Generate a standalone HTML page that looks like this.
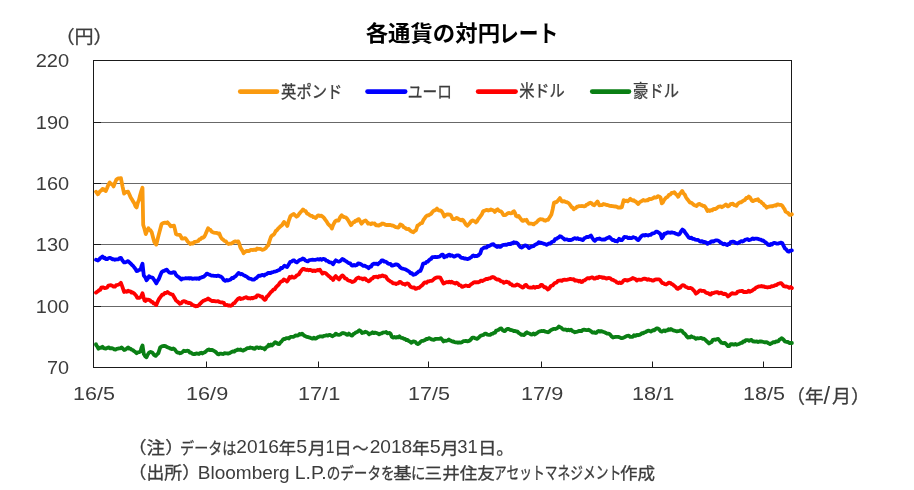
<!DOCTYPE html>
<html lang="ja"><head><meta charset="utf-8"><title>各通貨の対円レート</title>
<style>html,body{margin:0;padding:0;background:#fff}svg{display:block}</style></head>
<body>
<svg width="914" height="490" viewBox="0 0 914 490" font-family='"Liberation Sans","Noto Sans CJK JP",sans-serif'>
<rect width="914" height="490" fill="#fff"/>
<line x1="93.5" y1="122.5" x2="791.5" y2="122.5" stroke="#686868" stroke-width="1"/>
<line x1="93.5" y1="122.5" x2="101.0" y2="122.5" stroke="#1a1a1a" stroke-width="1"/>
<line x1="93.5" y1="183.5" x2="791.5" y2="183.5" stroke="#686868" stroke-width="1"/>
<line x1="93.5" y1="183.5" x2="101.0" y2="183.5" stroke="#1a1a1a" stroke-width="1"/>
<line x1="93.5" y1="244.5" x2="791.5" y2="244.5" stroke="#686868" stroke-width="1"/>
<line x1="93.5" y1="244.5" x2="101.0" y2="244.5" stroke="#1a1a1a" stroke-width="1"/>
<line x1="93.5" y1="306.5" x2="791.5" y2="306.5" stroke="#686868" stroke-width="1"/>
<line x1="93.5" y1="306.5" x2="101.0" y2="306.5" stroke="#1a1a1a" stroke-width="1"/>
<rect x="93.5" y="60.5" width="698.0" height="307.0" fill="none" stroke="#1a1a1a" stroke-width="1"/>
<line x1="206.5" y1="367.5" x2="206.5" y2="361.5" stroke="#1a1a1a" stroke-width="1"/>
<line x1="318.5" y1="367.5" x2="318.5" y2="361.5" stroke="#1a1a1a" stroke-width="1"/>
<line x1="428.5" y1="367.5" x2="428.5" y2="361.5" stroke="#1a1a1a" stroke-width="1"/>
<line x1="541.5" y1="367.5" x2="541.5" y2="361.5" stroke="#1a1a1a" stroke-width="1"/>
<line x1="652.5" y1="367.5" x2="652.5" y2="361.5" stroke="#1a1a1a" stroke-width="1"/>
<line x1="763.5" y1="367.5" x2="763.5" y2="361.5" stroke="#1a1a1a" stroke-width="1"/>
<g fill="none" stroke-width="3.8" stroke-linejoin="round" stroke-linecap="round">
<path d="M96.0,191.7 L97.9,194.3 L99.1,192.7 L100.2,191.2 L101.3,190.5 L102.5,189.0 L103.6,189.1 L104.7,190.4 L105.8,191.0 L107.1,188.0 L108.4,184.7 L109.7,182.5 L111.0,183.8 L112.3,184.5 L113.6,186.4 L114.9,183.0 L116.3,179.8 L117.5,178.8 L118.6,178.4 L119.8,178.4 L120.9,178.1 L122.5,186.3 L124.1,193.6 L125.4,192.4 L126.8,191.9 L128.1,191.7 L129.4,194.5 L130.7,197.5 L132.0,199.5 L133.2,201.6 L134.3,203.3 L135.4,206.1 L136.6,207.4 L137.8,202.8 L139.0,200.0 L140.1,195.3 L141.3,191.1 L142.5,187.7 L143.2,224.9 L144.5,229.0 L145.8,234.1 L147.1,230.9 L148.4,228.2 L149.5,230.0 L150.6,230.4 L151.7,232.2 L153.0,237.2 L154.3,242.0 L155.3,243.5 L156.3,244.6 L157.6,239.2 L158.9,234.1 L160.2,229.3 L161.5,224.3 L162.7,223.3 L163.9,222.9 L165.0,222.7 L166.2,223.0 L167.4,222.3 L168.5,223.5 L169.6,224.7 L170.7,226.3 L171.8,226.2 L172.9,225.8 L174.0,225.6 L175.0,229.6 L176.0,234.1 L177.3,234.7 L178.6,234.8 L179.9,234.8 L180.9,236.4 L181.9,238.7 L183.5,238.5 L185.1,238.1 L186.4,239.6 L187.8,241.6 L189.1,242.8 L190.4,244.0 L191.7,243.2 L193.0,243.6 L194.4,241.9 L195.7,241.8 L197.0,241.4 L198.2,241.0 L199.4,239.4 L200.6,239.1 L201.8,237.7 L203.0,237.8 L204.2,236.8 L205.5,234.3 L206.8,231.2 L208.1,228.2 L209.2,229.7 L210.4,229.9 L211.5,231.5 L212.7,232.2 L214.0,232.6 L215.3,232.8 L216.7,232.9 L218.0,233.7 L219.3,233.5 L220.6,236.7 L221.9,238.7 L223.2,239.7 L224.5,241.0 L225.9,241.3 L227.2,243.2 L228.5,244.0 L229.8,243.7 L231.1,243.7 L232.4,243.0 L233.7,242.0 L234.8,241.5 L236.0,241.5 L237.2,241.8 L238.3,241.4 L239.3,243.7 L240.3,247.3 L241.4,249.2 L242.5,250.8 L243.6,253.2 L245.0,251.9 L246.5,251.0 L247.9,250.8 L249.2,251.0 L250.5,249.9 L251.8,249.9 L253.1,250.1 L254.4,249.6 L255.8,250.0 L257.1,248.5 L258.4,248.8 L259.7,248.9 L261.0,249.2 L262.3,249.9 L263.6,249.5 L264.8,248.9 L265.9,248.0 L267.1,246.2 L268.2,245.5 L269.5,241.1 L270.9,237.0 L272.1,235.5 L273.3,234.9 L274.4,233.7 L275.6,231.2 L276.8,230.4 L278.1,228.6 L279.4,227.4 L280.7,226.1 L282.0,225.2 L283.0,223.5 L284.0,221.9 L285.1,223.4 L286.2,224.2 L287.3,225.9 L288.9,220.3 L290.5,216.0 L291.6,215.2 L292.7,214.5 L293.8,214.0 L295.1,215.4 L296.5,216.7 L297.8,215.9 L299.1,214.0 L300.4,212.3 L301.7,211.0 L303.0,209.4 L304.3,210.8 L305.6,211.1 L307.0,213.4 L308.3,214.0 L309.6,215.1 L310.9,215.9 L312.2,216.0 L313.3,217.1 L314.4,217.2 L315.5,218.0 L316.6,217.0 L317.7,215.6 L318.8,215.3 L320.1,216.0 L321.4,215.6 L322.7,216.7 L324.0,217.9 L325.4,219.9 L326.7,221.6 L328.0,223.9 L329.3,225.2 L330.6,226.3 L331.9,228.5 L333.0,225.4 L334.1,223.2 L335.2,221.3 L336.3,220.5 L337.4,220.6 L338.5,220.6 L340.1,217.3 L341.7,215.3 L343.0,216.6 L344.4,217.1 L345.7,217.3 L347.0,218.6 L348.3,220.5 L349.6,222.8 L350.9,225.2 L352.0,223.9 L353.2,222.4 L354.4,222.2 L355.5,220.6 L356.6,220.8 L357.8,219.6 L358.9,219.1 L360.2,221.4 L361.6,223.7 L362.9,222.0 L364.2,220.9 L365.5,220.4 L366.8,221.8 L368.1,223.7 L369.4,223.4 L370.8,224.2 L372.1,223.2 L373.4,223.7 L374.7,223.5 L376.0,225.3 L377.3,225.2 L378.6,225.7 L379.8,224.7 L380.9,224.8 L382.1,223.5 L383.2,223.7 L384.4,224.0 L385.6,224.9 L386.7,225.0 L387.9,225.0 L389.1,225.0 L390.4,225.0 L391.8,225.5 L393.1,225.6 L394.4,226.4 L395.7,227.2 L397.0,227.3 L398.3,227.7 L399.3,226.4 L400.3,224.4 L401.4,225.0 L402.6,225.7 L403.8,227.3 L404.9,227.7 L406.2,228.8 L407.5,229.1 L408.8,229.0 L409.9,230.3 L411.1,231.1 L412.2,231.8 L413.4,232.3 L414.7,230.9 L416.0,230.3 L417.4,225.7 L418.5,225.1 L419.7,224.2 L420.9,223.1 L422.0,223.1 L423.3,220.2 L424.6,218.4 L425.9,216.5 L427.2,215.5 L428.5,215.4 L429.8,214.5 L431.1,213.8 L432.5,211.8 L433.8,210.6 L435.4,210.2 L437.0,208.6 L438.1,210.0 L439.3,210.6 L440.5,210.4 L441.6,211.3 L443.0,213.5 L444.3,216.5 L445.6,215.1 L446.9,214.5 L448.2,214.3 L449.5,214.6 L450.8,215.2 L451.8,217.3 L452.8,219.1 L454.1,219.2 L455.4,218.7 L456.7,217.8 L457.8,218.4 L458.9,219.3 L460.0,219.8 L461.1,220.4 L462.2,219.6 L463.3,220.4 L464.6,222.4 L465.9,224.5 L467.2,225.7 L468.5,224.6 L469.9,223.0 L471.2,221.1 L472.6,220.4 L473.7,221.0 L474.8,221.3 L475.9,222.4 L477.2,221.1 L478.5,218.7 L479.8,217.2 L480.9,215.7 L482.0,213.9 L483.1,211.3 L484.4,210.7 L485.8,210.2 L487.1,209.9 L488.4,210.5 L489.7,210.2 L491.0,209.4 L492.3,209.9 L493.6,210.4 L494.9,211.9 L496.2,210.1 L497.6,209.3 L498.7,210.5 L499.8,211.1 L500.9,211.3 L502.2,212.8 L503.5,215.2 L504.6,215.2 L505.8,214.9 L507.0,213.9 L508.1,213.2 L509.4,213.0 L510.7,213.3 L512.0,213.2 L513.0,211.7 L514.0,211.3 L515.0,212.9 L516.0,215.9 L517.3,216.6 L518.6,215.9 L519.7,217.6 L520.8,218.9 L521.9,220.4 L523.0,220.9 L524.2,220.0 L525.4,220.5 L526.5,219.8 L527.8,222.2 L529.1,223.7 L530.2,223.5 L531.4,223.7 L532.6,223.9 L533.7,224.4 L534.8,223.2 L535.9,222.8 L537.0,221.8 L538.6,220.1 L540.2,219.1 L541.5,219.4 L542.9,219.5 L544.2,220.4 L545.5,220.8 L546.8,219.8 L548.1,219.8 L549.2,218.0 L550.3,216.4 L551.4,214.5 L552.7,209.2 L554.0,202.7 L555.1,202.2 L556.2,202.4 L557.3,201.4 L558.6,199.8 L559.9,198.1 L560.9,199.8 L561.9,201.4 L563.0,201.6 L564.2,201.1 L565.4,201.8 L566.5,202.1 L567.8,202.7 L569.1,203.5 L570.4,205.3 L571.5,207.1 L572.6,207.5 L573.7,209.3 L574.8,208.4 L575.9,207.9 L577.0,206.7 L578.1,206.6 L579.3,206.1 L580.5,206.2 L581.6,206.0 L582.9,206.1 L584.2,206.4 L585.5,206.0 L586.7,204.6 L587.9,204.4 L589.1,203.2 L590.3,202.7 L591.6,203.3 L592.9,204.8 L594.2,205.3 L595.3,204.0 L596.4,202.8 L597.5,201.4 L599.4,205.3 L600.7,205.2 L602.1,205.0 L603.4,204.0 L604.7,204.3 L606.0,204.8 L607.3,205.0 L608.7,205.4 L610.0,205.9 L611.3,206.0 L612.6,206.1 L613.9,206.4 L615.2,206.5 L616.5,206.7 L617.8,207.5 L619.1,207.3 L620.5,207.7 L621.8,207.3 L623.7,200.1 L625.0,201.2 L626.4,200.6 L627.7,201.4 L629.0,200.2 L630.3,198.8 L631.4,200.1 L632.6,200.6 L633.8,200.2 L634.9,201.4 L636.0,201.7 L637.1,203.1 L638.2,204.0 L639.5,202.3 L640.8,201.5 L642.1,200.8 L643.2,200.0 L644.4,200.7 L645.6,200.7 L646.7,200.1 L648.0,200.3 L649.3,198.8 L650.7,199.2 L652.0,198.7 L653.3,198.1 L654.4,197.1 L655.6,197.7 L656.8,197.3 L657.9,196.2 L659.2,196.5 L660.5,197.5 L661.8,203.4 L662.9,202.5 L664.0,200.2 L665.1,198.8 L666.4,197.4 L667.7,196.8 L669.0,194.8 L670.3,194.6 L671.6,193.0 L673.0,192.8 L674.3,192.2 L675.6,193.8 L676.9,195.0 L678.2,196.8 L679.5,194.4 L680.9,192.6 L682.2,190.9 L683.5,193.4 L684.8,194.6 L686.1,197.5 L687.4,199.3 L688.7,200.9 L690.0,202.7 L691.3,202.7 L692.6,203.8 L694.0,204.9 L695.3,205.4 L696.6,206.0 L698.1,204.3 L699.6,203.8 L700.8,205.0 L701.9,205.2 L703.1,206.0 L704.2,205.8 L705.3,207.0 L706.4,208.9 L707.5,211.0 L708.6,210.2 L709.8,211.0 L711.0,210.2 L712.1,210.3 L713.3,209.1 L714.5,208.9 L715.6,209.0 L716.8,208.2 L718.0,207.1 L719.3,206.6 L720.6,206.3 L721.9,207.2 L723.2,206.4 L724.5,205.5 L725.9,204.4 L727.8,206.4 L729.1,205.8 L730.5,204.1 L731.8,203.8 L732.9,203.7 L734.1,205.1 L735.2,205.2 L736.4,205.8 L738.0,203.6 L739.6,202.5 L740.9,202.4 L742.3,201.4 L743.6,200.5 L744.9,199.9 L746.2,198.0 L747.5,198.1 L748.8,196.6 L750.1,197.5 L751.5,200.2 L752.8,201.2 L754.1,200.6 L755.4,200.0 L756.7,199.8 L758.0,199.2 L759.3,201.1 L760.7,201.5 L762.0,203.1 L763.1,203.7 L764.3,205.4 L765.5,206.2 L766.6,207.7 L767.8,206.9 L769.0,206.7 L770.1,206.3 L771.3,206.2 L772.5,206.4 L773.7,205.7 L774.9,205.3 L776.0,205.6 L777.2,204.5 L778.4,204.4 L779.7,204.9 L781.0,204.9 L782.3,205.8 L783.4,207.6 L784.5,209.1 L785.6,211.7 L786.9,212.4 L788.2,213.2 L789.5,214.9 L790.7,214.9 L791.9,214.3" stroke="#fa9a0f"/>
<path d="M96.0,259.8 L97.9,260.5 L99.1,259.6 L100.2,258.1 L101.3,257.5 L102.5,256.5 L103.6,258.0 L104.7,257.7 L105.8,259.2 L107.1,259.2 L108.4,258.2 L109.7,257.8 L111.0,258.3 L112.3,259.3 L113.6,259.2 L114.9,259.8 L116.1,259.4 L117.3,259.3 L118.5,259.3 L119.7,258.0 L120.9,257.8 L122.5,260.6 L124.1,262.4 L125.4,262.3 L126.8,261.7 L128.1,261.1 L129.4,262.3 L130.7,263.6 L132.0,265.1 L133.2,266.0 L134.3,267.5 L135.4,268.9 L136.6,271.0 L137.9,270.9 L139.2,269.8 L140.5,269.7 L141.5,266.3 L142.5,263.8 L143.8,275.6 L145.2,277.3 L146.5,280.2 L147.8,278.7 L149.1,276.2 L150.2,277.2 L151.3,277.3 L152.4,277.5 L153.7,279.2 L155.0,281.1 L156.3,283.4 L157.6,280.9 L158.9,278.9 L160.2,275.5 L161.6,272.3 L162.9,271.2 L164.2,270.9 L165.5,270.0 L166.8,269.7 L168.1,271.4 L169.4,272.5 L170.7,272.9 L172.0,272.8 L173.4,272.1 L174.7,272.3 L176.0,274.9 L177.3,276.2 L178.6,277.0 L179.9,278.2 L181.2,279.5 L182.3,278.5 L183.5,278.7 L184.7,278.5 L185.8,278.2 L187.1,278.3 L188.4,278.1 L189.8,278.6 L191.1,278.1 L192.4,278.9 L193.7,278.6 L195.0,278.3 L196.4,278.8 L197.7,278.3 L199.0,278.9 L200.2,277.7 L201.3,277.6 L202.4,277.0 L203.6,276.9 L205.2,275.4 L206.8,273.6 L208.4,274.3 L210.0,274.9 L211.4,275.6 L212.9,275.6 L214.2,275.8 L215.5,275.9 L216.8,276.1 L218.1,275.6 L219.4,276.1 L220.8,276.6 L222.1,277.5 L223.7,279.8 L225.3,280.8 L226.6,280.0 L227.9,280.5 L229.3,280.0 L230.6,279.5 L231.9,278.0 L233.2,278.2 L234.5,276.9 L235.8,276.1 L237.2,274.4 L238.5,272.9 L239.7,273.7 L240.8,274.3 L241.9,273.9 L243.1,274.9 L244.4,275.6 L245.7,276.2 L247.0,276.9 L248.3,278.0 L249.7,278.7 L251.0,278.9 L252.6,279.7 L254.2,279.5 L255.3,278.6 L256.5,278.1 L257.6,276.8 L258.8,275.6 L260.1,275.9 L261.5,275.2 L262.8,274.9 L264.1,275.6 L265.4,274.4 L266.7,274.1 L268.0,273.0 L269.3,272.9 L270.6,273.0 L272.0,272.3 L273.3,272.1 L274.6,271.6 L275.9,271.3 L277.2,270.9 L278.5,270.2 L279.8,269.7 L280.9,268.0 L282.1,268.1 L283.2,267.0 L284.4,265.7 L285.8,266.4 L287.1,267.0 L288.7,264.4 L290.3,261.8 L291.6,261.6 L293.0,260.3 L294.3,260.5 L295.6,261.8 L296.9,262.4 L298.1,261.3 L299.3,260.2 L300.4,259.7 L301.6,259.6 L302.8,258.5 L304.1,259.0 L305.4,260.6 L306.7,261.1 L307.9,261.4 L309.0,260.4 L310.1,260.0 L311.3,259.8 L312.6,259.7 L313.9,259.8 L315.3,259.8 L316.6,259.5 L317.9,259.2 L319.2,259.6 L320.5,259.0 L321.8,259.8 L322.9,258.9 L323.9,259.0 L325.0,259.3 L326.2,260.7 L327.4,260.8 L328.5,261.7 L329.6,262.4 L330.8,262.3 L332.0,263.0 L333.1,264.3 L334.5,262.0 L335.8,260.3 L337.4,261.2 L339.0,261.7 L340.1,261.1 L341.2,260.1 L342.3,259.0 L343.6,259.5 L345.0,260.7 L346.3,261.4 L347.6,262.3 L348.9,263.1 L350.2,263.4 L351.5,265.3 L352.8,265.6 L354.1,264.8 L355.4,265.5 L356.8,265.0 L358.1,263.3 L359.4,263.6 L360.7,264.0 L362.0,265.0 L363.3,265.8 L364.6,265.6 L365.9,266.4 L367.3,267.0 L368.6,268.2 L369.9,266.6 L371.2,266.5 L372.5,264.3 L373.8,263.6 L375.1,263.9 L376.5,263.6 L377.8,264.3 L379.1,263.0 L380.4,262.3 L381.7,260.3 L383.0,260.3 L384.3,261.7 L385.6,261.7 L386.8,262.4 L388.0,263.5 L389.2,263.9 L390.5,263.9 L391.7,265.5 L392.9,265.6 L394.5,264.9 L396.1,264.3 L397.4,264.6 L398.8,265.6 L400.1,267.2 L401.4,268.2 L402.7,268.7 L404.0,269.0 L405.4,269.3 L406.7,270.1 L408.0,270.9 L409.3,271.6 L410.6,273.3 L411.9,273.1 L413.2,274.8 L414.5,274.5 L415.9,273.9 L417.2,272.8 L418.8,271.3 L420.4,270.9 L421.8,267.8 L423.1,263.6 L424.2,263.4 L425.4,263.2 L426.6,261.9 L427.7,261.7 L428.9,260.4 L430.0,259.3 L431.1,258.9 L432.3,257.1 L433.8,257.2 L435.3,256.9 L436.8,257.1 L438.2,256.8 L439.6,256.7 L440.7,255.7 L441.8,254.7 L442.9,254.7 L444.2,257.3 L445.5,256.1 L446.8,256.5 L448.1,255.0 L449.4,254.7 L450.5,255.8 L451.7,255.3 L452.9,255.9 L454.0,256.7 L455.3,256.2 L456.7,255.3 L458.0,255.3 L459.3,255.8 L460.6,257.3 L461.9,257.9 L463.2,258.0 L464.4,258.6 L465.6,258.4 L466.7,258.9 L467.9,259.1 L469.1,258.6 L470.2,257.8 L471.3,257.2 L472.4,256.0 L473.5,255.4 L474.7,256.3 L475.9,255.9 L477.0,256.0 L478.1,255.5 L479.2,254.5 L480.3,253.4 L481.6,249.4 L482.9,248.5 L484.2,247.5 L485.5,247.5 L486.6,247.6 L487.8,246.0 L489.0,246.0 L490.1,245.5 L491.2,244.8 L492.3,244.4 L493.4,244.2 L494.7,245.5 L496.0,246.2 L497.1,247.0 L498.3,246.2 L499.5,246.9 L500.6,246.8 L502.0,245.5 L503.3,244.8 L504.4,244.9 L505.5,244.7 L506.6,244.8 L507.9,244.1 L509.2,243.9 L510.5,244.2 L511.6,243.1 L512.7,243.4 L513.8,242.2 L515.1,242.6 L516.4,242.7 L517.7,243.5 L519.0,245.4 L520.3,246.9 L521.6,247.5 L522.9,246.8 L524.3,245.7 L525.6,245.5 L526.7,245.9 L527.8,246.7 L528.9,248.1 L530.0,247.4 L531.2,246.6 L532.4,246.3 L533.5,246.2 L534.8,244.9 L536.1,244.3 L537.4,243.7 L538.7,242.2 L539.9,242.9 L541.0,242.7 L542.1,243.1 L543.3,243.5 L544.4,244.0 L545.5,244.2 L546.6,244.8 L547.9,244.1 L549.2,243.3 L550.5,243.5 L551.6,242.2 L552.7,241.5 L553.9,241.3 L555.1,239.2 L556.3,238.9 L557.5,238.1 L558.7,237.6 L559.9,236.2 L561.0,236.6 L562.2,237.5 L563.4,238.3 L564.5,239.5 L565.8,239.4 L567.1,239.4 L568.5,240.1 L569.8,240.0 L571.1,240.0 L572.4,239.5 L573.7,238.5 L575.0,238.2 L576.4,238.8 L577.7,238.2 L579.0,239.2 L580.3,239.1 L581.6,239.7 L582.9,240.1 L584.2,238.3 L585.5,237.8 L586.8,236.9 L588.2,237.0 L589.5,236.4 L590.9,235.5 L592.2,237.8 L593.5,239.7 L594.8,240.8 L595.9,239.8 L597.0,238.9 L598.1,238.8 L599.4,238.5 L600.8,239.2 L602.1,239.6 L603.4,239.5 L604.6,239.6 L605.8,238.8 L606.9,238.1 L608.1,237.8 L609.3,236.9 L610.4,237.9 L611.5,239.1 L612.6,240.1 L613.8,239.8 L614.9,241.2 L616.1,240.8 L617.2,241.5 L619.1,238.8 L620.5,240.0 L621.8,240.1 L623.1,238.7 L624.4,236.9 L625.7,237.1 L627.0,237.2 L628.3,238.2 L629.5,237.7 L630.7,238.1 L631.8,238.1 L633.0,237.1 L634.2,237.5 L635.5,237.8 L636.9,239.3 L638.2,240.1 L639.5,238.7 L640.8,236.9 L642.1,235.5 L643.3,235.1 L644.5,235.6 L645.6,234.8 L646.8,235.2 L648.0,235.5 L649.3,234.8 L650.7,234.9 L652.0,233.6 L653.1,233.3 L654.3,233.1 L655.5,232.1 L656.6,231.6 L657.9,232.1 L659.2,233.0 L660.5,234.2 L661.8,238.2 L663.1,236.5 L664.4,233.6 L665.6,233.7 L666.8,232.9 L668.0,232.3 L669.3,232.7 L670.5,232.8 L671.7,232.3 L673.0,232.6 L674.3,232.8 L675.6,233.6 L676.9,234.0 L678.2,234.6 L679.5,234.2 L681.0,231.5 L682.4,229.6 L683.9,230.6 L685.4,232.9 L686.5,234.2 L687.6,235.9 L688.7,237.5 L690.0,238.1 L691.4,237.7 L692.7,238.9 L694.0,238.8 L695.3,239.6 L696.6,239.8 L697.9,239.9 L699.2,240.8 L700.6,241.7 L702.0,241.1 L703.4,242.1 L704.8,241.9 L706.1,242.5 L707.5,243.8 L708.6,242.8 L709.8,242.9 L711.0,241.6 L712.1,241.2 L713.3,241.7 L714.5,240.9 L715.6,240.3 L716.8,240.3 L718.0,240.5 L719.3,241.3 L720.6,242.5 L721.9,243.2 L723.2,244.3 L724.5,243.7 L725.9,244.5 L727.2,245.1 L728.4,243.9 L729.5,244.2 L730.6,242.2 L731.8,241.9 L732.9,241.6 L734.1,241.9 L735.2,242.7 L736.4,243.2 L737.5,243.3 L738.7,242.7 L739.9,242.0 L741.0,241.2 L742.3,241.5 L743.6,240.9 L744.9,239.9 L746.2,239.5 L747.5,239.2 L748.9,240.1 L750.2,239.7 L751.5,239.2 L752.8,238.4 L754.1,239.1 L755.4,238.6 L756.7,238.6 L758.0,238.9 L759.4,239.3 L760.7,239.6 L762.0,240.5 L763.1,240.5 L764.3,241.5 L765.5,242.3 L766.6,243.2 L768.2,244.8 L769.8,245.1 L770.9,243.9 L772.0,244.5 L773.1,243.2 L774.3,242.8 L775.5,243.0 L776.6,243.7 L777.8,243.7 L779.0,243.2 L780.1,243.1 L781.2,242.6 L782.3,243.2 L783.6,245.8 L784.9,248.4 L786.2,249.3 L787.6,251.2 L788.9,251.7 L790.4,250.6 L791.9,250.4" stroke="#0000ff"/>
<path d="M96.0,292.6 L97.9,291.3 L99.1,290.1 L100.2,289.9 L101.3,287.7 L102.5,287.4 L103.6,287.5 L104.7,288.2 L105.8,288.0 L107.1,287.5 L108.4,285.6 L109.7,285.4 L111.0,285.2 L112.3,285.7 L113.6,286.7 L114.9,286.7 L116.3,285.1 L117.6,284.8 L118.7,284.5 L119.8,284.0 L120.9,282.8 L122.5,287.2 L124.1,292.0 L125.4,291.2 L126.8,291.8 L128.1,290.7 L129.3,291.4 L130.5,291.4 L131.6,292.6 L132.8,292.5 L134.0,293.3 L135.1,294.5 L136.2,295.7 L137.3,297.9 L138.9,297.9 L140.5,297.2 L141.5,295.8 L142.5,293.3 L143.5,297.1 L144.5,300.5 L145.7,301.0 L146.8,299.5 L147.9,299.7 L149.1,299.9 L150.2,300.5 L151.3,301.8 L152.4,301.8 L153.7,303.5 L155.0,303.8 L156.3,305.1 L157.6,301.8 L158.9,299.2 L160.0,297.6 L161.1,296.1 L162.2,294.6 L163.5,294.5 L164.8,292.9 L166.2,293.1 L167.5,292.0 L168.8,293.0 L170.1,293.8 L171.4,294.3 L172.7,294.6 L173.8,296.7 L174.9,298.3 L176.0,300.5 L177.3,301.3 L178.6,302.5 L179.9,303.8 L181.2,303.3 L182.6,301.5 L183.9,301.2 L185.1,301.3 L186.2,302.5 L187.3,302.3 L188.5,303.1 L189.7,303.0 L190.9,303.5 L192.0,304.8 L193.2,305.0 L194.4,305.8 L195.6,306.3 L196.7,306.0 L197.8,306.0 L199.0,305.1 L200.3,303.6 L201.6,302.2 L202.9,301.1 L204.2,300.5 L205.5,299.8 L206.8,299.5 L208.1,298.5 L210.0,299.9 L211.1,300.5 L212.2,301.2 L213.4,300.8 L214.6,301.1 L215.7,301.4 L216.9,301.4 L218.1,301.2 L219.2,301.9 L220.4,302.3 L221.5,302.4 L222.7,302.5 L223.8,302.8 L224.9,304.7 L226.0,305.1 L227.2,305.0 L228.3,305.5 L229.4,305.4 L230.6,305.8 L231.9,305.2 L233.2,303.6 L234.5,303.1 L235.8,301.2 L237.2,299.7 L238.5,298.5 L239.7,298.0 L240.8,299.0 L241.9,298.6 L243.1,298.5 L244.2,297.8 L245.3,297.5 L246.4,297.2 L247.7,298.3 L249.0,298.1 L250.3,298.5 L251.5,297.8 L252.6,298.3 L253.8,297.7 L254.9,297.2 L256.0,297.3 L257.1,295.4 L258.2,295.3 L259.5,295.7 L260.8,296.6 L262.1,296.6 L263.4,298.7 L264.7,299.9 L265.8,299.1 L266.9,296.6 L268.0,295.9 L269.3,294.1 L270.7,292.3 L272.0,291.3 L273.3,289.6 L274.6,289.4 L275.9,287.4 L277.2,286.0 L278.5,284.9 L279.8,282.8 L281.1,281.5 L282.5,281.1 L283.8,279.5 L284.9,280.1 L286.0,280.5 L287.1,281.5 L288.4,279.6 L289.7,276.9 L290.9,277.7 L292.0,276.6 L293.1,277.5 L294.3,277.5 L295.4,276.9 L296.6,275.5 L297.8,274.9 L298.9,274.3 L300.2,272.0 L301.5,270.4 L302.8,269.0 L304.0,268.9 L305.2,269.7 L306.3,270.0 L307.5,269.6 L308.7,270.3 L310.0,269.8 L311.3,270.3 L312.7,271.0 L314.0,270.4 L315.3,271.0 L316.4,270.4 L317.6,269.9 L318.8,270.4 L319.9,269.7 L321.2,271.7 L322.5,273.6 L323.6,272.6 L324.6,272.8 L325.9,273.2 L327.2,274.7 L328.5,275.9 L329.8,276.8 L330.9,278.1 L332.0,278.4 L333.1,280.0 L334.5,277.6 L335.8,276.1 L337.4,278.0 L339.0,279.4 L340.1,277.9 L341.2,276.4 L342.3,275.4 L343.6,276.3 L345.0,278.3 L346.3,278.6 L347.6,280.0 L348.8,280.6 L349.9,280.8 L351.1,281.4 L352.2,282.0 L353.5,281.6 L354.8,280.9 L356.1,279.0 L357.4,277.9 L358.7,277.4 L360.0,278.4 L361.4,278.3 L362.7,279.4 L364.0,278.4 L365.3,278.7 L366.4,280.2 L367.5,280.4 L368.6,281.4 L369.9,280.7 L371.2,279.0 L372.5,278.5 L373.8,276.8 L375.1,276.9 L376.5,276.7 L377.8,277.4 L378.9,276.2 L380.1,276.5 L381.2,276.1 L382.4,275.4 L383.7,276.3 L385.0,276.1 L386.1,276.8 L387.2,278.9 L388.3,280.0 L389.4,280.6 L390.6,281.7 L391.8,282.0 L392.9,283.3 L394.5,283.3 L396.1,284.0 L397.2,283.4 L398.3,283.3 L399.4,282.0 L400.5,282.0 L401.7,283.0 L402.9,283.9 L404.0,284.0 L405.1,284.7 L406.3,283.6 L407.5,283.5 L408.6,284.0 L409.7,285.7 L410.8,286.9 L411.9,287.3 L413.0,287.6 L414.2,287.3 L415.4,288.9 L416.5,288.6 L417.8,287.8 L419.1,287.8 L420.4,286.6 L421.5,285.7 L422.6,284.9 L423.7,283.3 L425.0,282.3 L426.4,282.8 L427.7,281.5 L429.0,281.4 L430.1,280.8 L431.3,280.9 L432.5,280.4 L433.6,279.4 L434.9,278.3 L436.2,277.7 L437.5,277.4 L438.9,277.4 L440.3,277.7 L441.9,280.7 L443.5,283.6 L444.7,283.0 L445.9,282.3 L447.0,282.0 L448.2,282.3 L449.4,281.6 L450.5,282.5 L451.7,281.6 L452.9,282.7 L454.0,282.9 L455.3,283.5 L456.7,282.7 L458.0,283.6 L459.3,285.2 L460.6,285.3 L461.9,286.9 L463.2,286.6 L464.6,286.0 L465.9,285.5 L467.5,286.0 L469.1,286.2 L470.2,285.0 L471.4,284.1 L472.6,283.4 L473.7,282.3 L474.9,282.2 L476.0,282.5 L477.1,282.2 L478.3,282.3 L479.6,281.7 L481.0,280.6 L482.3,281.0 L483.6,280.3 L484.9,279.8 L486.2,278.9 L487.5,279.2 L488.8,278.3 L490.1,278.3 L491.5,277.4 L492.8,277.0 L494.4,277.6 L496.0,279.0 L497.1,279.5 L498.3,279.4 L499.5,280.0 L500.6,281.0 L501.7,281.5 L502.8,281.7 L503.9,282.9 L505.2,282.2 L506.6,281.6 L507.8,282.4 L509.0,282.5 L510.1,284.1 L511.3,284.1 L512.5,285.5 L513.7,285.7 L514.9,285.6 L516.0,285.2 L517.2,284.4 L518.4,284.9 L519.7,285.8 L521.0,286.5 L522.3,287.5 L523.6,287.3 L524.9,285.3 L526.2,284.9 L527.3,286.3 L528.4,287.3 L529.5,287.5 L530.8,287.7 L532.1,287.7 L533.5,286.8 L534.8,287.8 L536.1,287.0 L537.4,286.9 L538.5,287.0 L539.7,286.5 L540.9,284.9 L542.0,284.9 L543.2,286.2 L544.4,287.3 L545.5,287.1 L546.7,288.4 L547.9,289.5 L549.2,288.5 L550.5,286.4 L551.8,285.5 L552.8,285.3 L553.9,283.9 L555.2,282.8 L556.5,282.7 L557.9,280.9 L559.2,280.6 L560.5,280.5 L561.8,280.9 L563.2,279.8 L564.5,279.7 L565.8,279.9 L567.1,279.8 L568.4,279.4 L569.7,278.9 L571.0,279.0 L572.3,279.3 L573.6,279.2 L575.0,280.6 L576.3,280.5 L577.6,280.6 L578.8,281.5 L579.9,280.8 L581.1,282.0 L582.2,281.9 L583.4,280.5 L584.5,280.3 L585.6,279.6 L586.8,278.6 L588.1,278.1 L589.4,278.5 L590.7,277.7 L592.0,277.3 L593.1,277.8 L594.2,278.7 L595.3,278.6 L596.6,277.4 L597.9,278.0 L599.2,276.7 L600.4,277.1 L601.6,277.1 L602.7,277.9 L603.9,277.4 L605.1,278.0 L606.4,278.7 L607.8,278.1 L609.1,278.0 L610.4,278.4 L611.7,279.6 L613.0,279.9 L614.3,280.7 L615.7,281.2 L617.0,282.6 L618.3,283.1 L619.6,282.4 L620.9,283.2 L622.2,282.5 L623.5,280.7 L624.8,279.9 L626.1,280.1 L627.5,280.6 L628.8,279.9 L630.1,279.4 L631.4,278.9 L632.7,278.0 L634.0,278.6 L635.4,279.0 L636.7,280.6 L638.0,279.7 L639.3,279.6 L640.6,279.9 L641.9,279.6 L643.2,278.9 L644.5,278.6 L645.8,278.9 L647.1,279.8 L648.5,279.1 L649.8,279.9 L651.1,279.8 L652.4,280.6 L653.7,280.6 L655.0,279.6 L656.4,279.3 L657.7,279.4 L659.0,279.3 L660.1,280.0 L661.2,281.7 L662.3,283.2 L663.6,283.2 L664.9,284.2 L666.2,284.5 L667.5,283.7 L668.9,282.6 L670.2,282.8 L671.6,284.0 L672.9,284.5 L674.2,285.8 L675.5,286.7 L676.8,288.5 L677.9,288.9 L679.0,287.7 L680.1,287.8 L681.4,286.0 L682.7,285.2 L684.0,285.3 L685.4,286.7 L686.7,287.2 L688.0,288.0 L689.3,288.2 L690.6,288.0 L691.9,288.5 L693.2,289.9 L694.6,291.3 L695.9,293.7 L697.2,292.8 L698.5,291.6 L699.8,290.4 L700.9,290.4 L702.1,291.0 L703.2,290.8 L704.4,291.1 L705.7,292.5 L707.0,293.1 L708.3,293.2 L709.6,294.4 L710.8,294.6 L712.0,293.0 L713.1,293.2 L714.3,292.7 L715.5,292.4 L716.6,292.2 L717.8,292.1 L719.0,293.3 L720.1,293.1 L721.2,292.6 L722.4,293.5 L723.6,294.2 L724.7,293.7 L725.8,294.1 L726.9,295.1 L728.0,296.4 L729.3,295.5 L730.7,294.2 L732.0,293.1 L733.6,293.6 L735.2,293.7 L736.4,293.5 L737.5,291.9 L738.6,291.5 L739.8,291.1 L741.1,291.0 L742.5,290.8 L743.8,292.2 L745.1,291.8 L746.3,292.1 L747.5,291.8 L748.6,290.7 L749.8,291.7 L751.0,291.1 L752.2,290.7 L753.4,289.5 L754.5,289.1 L755.7,287.9 L756.9,287.2 L758.1,286.7 L759.3,286.4 L760.4,286.4 L761.6,286.0 L762.8,286.5 L764.0,286.4 L765.2,287.1 L766.3,287.2 L767.5,287.5 L768.7,287.2 L770.0,287.2 L771.4,286.2 L772.7,286.3 L774.0,285.9 L775.3,285.1 L776.6,285.0 L777.9,283.9 L779.0,283.7 L780.1,283.1 L781.2,283.2 L782.5,284.5 L783.7,286.1 L785.0,286.5 L786.5,286.4 L788.0,287.0 L789.3,287.9 L790.6,287.0 L791.9,288.0" stroke="#ff0000"/>
<path d="M96.0,344.1 L96.0,344.8 L97.2,346.4 L98.5,348.7 L99.8,347.7 L101.2,347.8 L102.5,346.8 L103.6,348.1 L104.7,348.4 L105.8,348.7 L107.4,347.8 L109.0,347.4 L110.3,348.4 L111.7,348.2 L113.0,348.5 L114.3,349.4 L115.5,349.6 L116.7,348.9 L117.9,348.7 L119.1,348.3 L120.3,348.4 L121.5,347.4 L122.8,348.7 L124.1,350.0 L125.4,349.6 L126.8,348.5 L128.1,347.4 L129.2,348.6 L130.4,348.6 L131.5,349.7 L132.7,350.0 L134.0,351.2 L135.3,351.9 L136.6,353.3 L137.9,352.3 L139.2,352.2 L140.5,351.4 L141.5,347.8 L142.5,345.4 L143.8,354.0 L145.2,356.2 L146.5,357.3 L147.8,354.5 L149.1,352.7 L150.2,352.0 L151.3,352.1 L152.4,352.7 L154.0,354.9 L155.6,355.9 L156.9,354.4 L158.3,353.3 L160.2,347.4 L161.5,346.6 L162.8,346.1 L164.2,345.8 L165.5,346.1 L166.8,347.0 L168.1,347.6 L169.4,348.1 L170.7,348.7 L172.1,349.1 L173.4,348.5 L174.7,349.4 L176.6,352.0 L177.7,352.6 L178.8,352.7 L179.9,353.3 L181.2,352.9 L182.6,352.0 L183.9,350.7 L185.5,351.2 L187.1,350.7 L188.4,350.8 L189.8,352.5 L191.1,352.7 L192.4,353.7 L193.7,354.2 L195.0,354.0 L196.3,353.4 L197.7,353.6 L199.0,354.0 L200.2,353.1 L201.3,352.7 L202.4,353.5 L203.6,352.7 L204.9,352.2 L206.2,351.1 L207.5,350.0 L208.9,349.4 L210.0,350.1 L211.1,350.0 L212.2,350.0 L213.5,350.7 L214.8,351.4 L216.2,352.4 L217.5,354.0 L218.7,354.4 L219.9,353.6 L221.0,353.7 L222.2,353.9 L223.4,354.0 L224.6,353.2 L225.8,353.4 L226.9,353.3 L228.1,353.7 L229.3,353.3 L230.6,352.5 L231.9,351.8 L233.2,351.4 L234.3,351.5 L235.5,350.4 L236.7,350.4 L237.8,349.4 L239.1,349.9 L240.4,349.4 L241.8,350.3 L243.1,350.7 L244.2,349.9 L245.3,349.7 L246.4,348.7 L247.7,348.1 L249.0,348.1 L250.3,347.4 L251.4,347.9 L252.5,347.9 L253.6,348.7 L254.9,348.8 L256.2,347.3 L257.5,347.4 L258.8,348.1 L260.2,347.4 L261.5,348.1 L263.1,348.1 L264.7,349.4 L266.0,347.4 L267.4,346.7 L268.7,344.8 L269.8,345.7 L270.9,344.5 L272.0,345.4 L273.6,343.8 L275.2,342.2 L276.5,342.8 L277.9,343.9 L279.2,344.1 L280.4,342.4 L281.5,341.5 L282.6,340.0 L283.8,338.9 L285.1,339.1 L286.4,338.1 L287.7,338.2 L288.9,338.5 L290.0,337.2 L291.1,336.8 L292.3,336.9 L293.4,336.9 L294.6,336.2 L295.8,335.4 L296.9,335.6 L298.2,335.3 L299.5,334.0 L300.8,334.5 L302.1,333.6 L303.2,334.7 L304.4,335.7 L305.6,336.3 L306.7,336.9 L307.9,337.0 L309.0,337.4 L310.1,337.7 L311.3,338.2 L312.6,338.7 L314.0,337.6 L315.3,338.7 L316.6,338.2 L317.8,337.1 L318.9,336.8 L320.1,336.4 L321.2,336.3 L322.6,336.6 L323.9,335.8 L325.3,335.6 L326.6,335.2 L327.9,335.7 L329.2,334.9 L330.3,335.0 L331.4,335.8 L332.5,336.3 L333.6,335.4 L334.7,334.9 L335.8,333.6 L337.4,334.6 L339.0,334.9 L340.3,334.5 L341.7,333.4 L343.0,333.0 L344.3,333.4 L345.6,333.8 L346.9,334.9 L347.9,334.7 L348.9,333.6 L350.0,334.5 L351.1,335.3 L352.2,335.6 L353.5,334.0 L354.8,333.3 L356.1,332.3 L357.2,332.0 L358.3,331.1 L359.4,330.3 L360.7,331.1 L362.0,333.0 L363.1,332.5 L364.2,332.7 L365.3,331.7 L366.6,332.2 L367.9,333.0 L369.2,334.3 L370.3,333.4 L371.4,333.3 L372.5,332.3 L373.8,333.2 L375.1,332.6 L376.5,333.0 L377.8,333.5 L379.1,334.3 L380.3,333.7 L381.5,333.5 L382.6,332.6 L383.8,332.5 L385.0,332.3 L386.1,332.0 L387.3,333.3 L388.5,333.1 L389.6,333.0 L390.7,334.0 L391.8,336.7 L392.9,337.6 L394.5,337.0 L396.1,337.6 L397.2,337.0 L398.3,337.4 L399.4,336.3 L400.5,337.4 L401.7,337.9 L402.9,338.2 L404.0,338.9 L405.1,339.0 L406.3,340.1 L407.5,339.8 L408.6,340.9 L409.9,341.4 L411.2,342.8 L412.3,342.2 L413.4,341.3 L414.5,341.5 L415.6,342.2 L416.7,343.6 L417.8,344.1 L419.1,343.3 L420.4,342.0 L421.7,340.9 L422.8,340.9 L423.9,340.4 L425.0,340.2 L426.3,339.0 L427.7,339.0 L429.0,338.2 L430.1,338.5 L431.2,339.4 L432.3,339.5 L433.8,339.9 L435.3,339.0 L436.8,338.9 L438.2,338.8 L439.5,338.8 L440.9,338.2 L442.2,339.7 L443.5,341.5 L444.8,340.6 L446.1,340.8 L447.5,340.5 L448.8,339.5 L449.9,340.4 L451.1,340.8 L452.2,341.5 L453.4,341.5 L454.5,342.1 L455.7,342.3 L456.9,342.4 L458.0,342.8 L459.3,342.3 L460.6,342.6 L461.9,342.2 L463.2,341.2 L464.6,341.2 L465.9,340.9 L467.5,341.3 L469.1,340.9 L470.2,340.1 L471.3,338.9 L472.4,337.6 L473.5,337.6 L474.7,338.1 L475.9,338.5 L477.0,338.9 L478.3,338.0 L479.7,336.6 L481.0,335.6 L482.3,335.2 L483.6,334.9 L484.9,333.6 L486.2,333.6 L487.5,334.7 L488.8,334.9 L490.1,334.9 L491.5,333.9 L492.8,333.6 L493.9,332.8 L495.1,332.6 L496.2,330.5 L497.4,330.3 L498.7,329.7 L500.0,328.6 L501.3,328.4 L502.6,330.1 L503.9,331.0 L505.0,331.0 L506.1,329.7 L507.2,329.0 L508.5,328.8 L509.9,329.8 L511.2,330.0 L512.5,330.3 L513.8,331.0 L515.1,331.0 L516.4,331.5 L517.7,331.7 L519.0,333.2 L520.3,333.9 L521.6,334.9 L522.7,334.6 L523.8,335.1 L524.9,334.3 L525.9,332.9 L526.9,332.3 L528.2,333.2 L529.5,333.5 L530.8,334.3 L532.1,334.5 L533.5,333.4 L534.8,334.5 L536.1,333.6 L537.4,332.7 L538.7,331.7 L540.0,331.3 L541.3,331.0 L542.6,331.1 L543.9,330.8 L545.3,331.7 L546.6,331.9 L547.9,332.3 L549.2,331.7 L550.5,330.4 L551.8,329.7 L553.0,329.1 L554.1,328.8 L555.3,329.0 L556.5,328.5 L557.7,327.9 L558.9,326.4 L560.1,327.3 L561.3,327.7 L562.5,329.0 L563.6,329.7 L564.8,329.5 L566.0,329.6 L567.1,330.3 L568.4,329.6 L569.7,330.3 L571.0,329.7 L572.3,331.0 L573.6,331.6 L574.9,332.3 L576.2,331.9 L577.5,331.7 L578.9,330.9 L580.2,331.0 L581.5,331.2 L582.8,329.9 L584.1,329.7 L585.2,329.9 L586.4,330.1 L587.6,330.1 L588.7,329.7 L589.8,330.5 L590.9,331.1 L592.0,332.3 L593.1,332.6 L594.2,332.2 L595.3,333.0 L596.4,332.8 L597.5,331.5 L598.6,331.0 L599.9,331.7 L601.2,331.1 L602.5,331.7 L603.6,332.0 L604.8,332.3 L606.0,333.0 L607.1,333.6 L608.2,333.6 L609.3,333.8 L610.4,334.9 L611.7,336.6 L613.0,337.6 L614.3,337.1 L615.6,336.9 L617.0,336.8 L618.3,336.9 L619.4,337.3 L620.5,337.7 L621.6,338.2 L623.1,337.8 L624.6,337.2 L626.1,336.3 L627.5,335.8 L628.8,335.6 L630.1,336.9 L631.4,336.9 L632.7,336.9 L634.0,335.3 L635.4,335.9 L636.7,334.9 L638.0,335.3 L639.3,334.9 L640.6,334.3 L641.9,333.1 L643.2,333.4 L644.5,332.3 L645.8,332.2 L647.1,331.0 L648.5,330.6 L649.8,331.0 L650.9,331.5 L652.1,330.9 L653.2,330.1 L654.4,330.3 L655.5,329.1 L656.6,328.5 L657.7,328.4 L659.0,329.1 L660.3,331.0 L661.6,331.7 L662.8,331.1 L663.9,330.5 L665.1,331.2 L666.2,330.3 L667.4,330.4 L668.5,329.2 L669.7,329.9 L670.9,329.0 L672.0,329.7 L673.2,330.4 L674.4,330.7 L675.5,331.0 L676.8,331.4 L678.1,331.1 L679.5,330.9 L680.8,330.3 L682.1,331.0 L683.4,332.8 L684.7,333.6 L685.8,335.0 L686.9,336.6 L688.0,337.6 L689.1,337.1 L690.2,337.3 L691.3,336.3 L692.4,337.0 L693.6,337.3 L694.8,337.9 L695.9,338.9 L697.2,338.2 L698.5,338.4 L699.8,338.2 L701.1,337.9 L702.4,338.8 L703.7,338.7 L705.0,339.5 L706.3,340.8 L707.7,342.2 L709.0,343.5 L710.3,342.6 L711.6,342.0 L712.9,339.8 L714.2,339.5 L715.5,339.8 L716.9,339.1 L718.2,338.9 L719.3,340.3 L720.4,341.7 L721.5,342.8 L723.1,343.3 L724.7,342.8 L725.8,343.7 L726.9,344.9 L728.0,346.1 L729.3,346.1 L730.7,344.2 L732.0,344.1 L733.1,344.5 L734.3,344.6 L735.5,344.0 L736.6,344.8 L738.1,344.3 L739.6,343.7 L741.1,342.8 L742.2,342.8 L743.4,341.3 L744.6,341.5 L745.7,340.2 L746.9,340.2 L748.0,340.2 L749.1,340.8 L750.3,340.2 L751.6,340.0 L753.0,341.4 L754.3,341.5 L755.6,341.7 L756.9,341.3 L758.2,342.0 L759.5,341.5 L760.8,341.5 L762.1,341.7 L763.5,342.0 L764.8,342.4 L766.1,342.2 L767.4,342.4 L768.7,343.4 L770.0,344.1 L771.1,343.4 L772.2,342.9 L773.3,342.2 L774.6,342.4 L775.9,341.4 L777.2,341.5 L778.4,341.1 L779.5,339.7 L780.6,339.0 L781.8,338.2 L783.4,339.5 L785.0,341.5 L786.5,341.8 L788.0,342.0 L789.3,343.0 L790.6,342.9 L791.9,343.0" stroke="#0a7f14"/>
</g>
<line x1="240.20000000000002" y1="91.6" x2="277.0" y2="91.6" stroke="#fa9a0f" stroke-width="4.6" stroke-linecap="round"/>
<line x1="367.5" y1="91.6" x2="405.2" y2="91.6" stroke="#0000ff" stroke-width="4.6" stroke-linecap="round"/>
<line x1="478.1" y1="91.6" x2="515.6" y2="91.6" stroke="#ff0000" stroke-width="4.6" stroke-linecap="round"/>
<line x1="592.1999999999999" y1="91.6" x2="629.0" y2="91.6" stroke="#0a7f14" stroke-width="4.6" stroke-linecap="round"/>
<g>
<text transform="matrix(1.0189 0 0 0.9857 365.64 41.13)" font-size="22" font-weight="bold" fill="#000">各通貨の対円</text>
<text transform="matrix(0.8970 0 0 1.0649 498.99 41.54)" font-size="22" font-weight="bold" fill="#000">レート</text>
</g>
<g>
<text transform="matrix(1.0621 0 0 0.9941 55.42 42.86)" font-size="18" font-weight="normal" fill="#3c3c3c" stroke="#3c3c3c" stroke-width="0.3">（円）</text>
</g>
<g>
<text transform="matrix(1.0567 0 0 0.9778 35.64 66.86)" font-size="19" font-weight="normal" fill="#3c3c3c">220</text>
</g>
<g>
<text transform="matrix(1.0508 0 0 0.9778 35.82 128.86)" font-size="19" font-weight="normal" fill="#3c3c3c">190</text>
</g>
<g>
<text transform="matrix(1.0508 0 0 0.9778 35.82 189.86)" font-size="19" font-weight="normal" fill="#3c3c3c">160</text>
</g>
<g>
<text transform="matrix(1.0508 0 0 0.9778 35.82 250.86)" font-size="19" font-weight="normal" fill="#3c3c3c">130</text>
</g>
<g>
<text transform="matrix(1.0508 0 0 0.9778 35.82 312.86)" font-size="19" font-weight="normal" fill="#3c3c3c">100</text>
</g>
<g>
<text transform="matrix(1.0462 0 0 0.9778 46.95 373.86)" font-size="19" font-weight="normal" fill="#3c3c3c">70</text>
</g>
<g>
<text transform="matrix(1.1338 0 0 0.9571 73.00 399.56)" font-size="19" font-weight="normal" fill="#3c3c3c">16/5</text>
</g>
<g>
<text transform="matrix(1.1420 0 0 0.9571 185.99 399.56)" font-size="19" font-weight="normal" fill="#3c3c3c">16/9</text>
</g>
<g>
<text transform="matrix(1.1420 0 0 0.9571 297.99 399.56)" font-size="19" font-weight="normal" fill="#3c3c3c">17/1</text>
</g>
<g>
<text transform="matrix(1.1338 0 0 0.9571 408.00 399.56)" font-size="19" font-weight="normal" fill="#3c3c3c">17/5</text>
</g>
<g>
<text transform="matrix(1.1420 0 0 0.9571 520.99 399.56)" font-size="19" font-weight="normal" fill="#3c3c3c">17/9</text>
</g>
<g>
<text transform="matrix(1.1420 0 0 0.9571 631.99 399.56)" font-size="19" font-weight="normal" fill="#3c3c3c">18/1</text>
</g>
<g>
<text transform="matrix(1.1338 0 0 0.9571 743.00 399.56)" font-size="19" font-weight="normal" fill="#3c3c3c">18/5</text>
</g>
<g>
<text transform="matrix(1.0374 0 0 1.0412 786.23 402.78)" font-size="18" font-weight="normal" fill="#3c3c3c" stroke="#3c3c3c" stroke-width="0.3">（年</text>
<text transform="matrix(1.1818 0 0 1.1525 823.40 403.91)" font-size="20" font-weight="normal" fill="#3c3c3c">/</text>
<text transform="matrix(1.0593 0 0 1.0412 831.91 402.78)" font-size="18" font-weight="normal" fill="#3c3c3c" stroke="#3c3c3c" stroke-width="0.3">月）</text>
</g>
<g>
<text transform="matrix(0.9015 0 0 1.0095 281.12 97.54)" font-size="17" font-weight="normal" fill="#3c3c3c" stroke="#3c3c3c" stroke-width="0.3">英ポンド</text>
</g>
<g>
<text transform="matrix(0.8677 0 0 1.0095 407.82 97.54)" font-size="17" font-weight="normal" fill="#3c3c3c" stroke="#3c3c3c" stroke-width="0.3">ユーロ</text>
</g>
<g>
<text transform="matrix(0.8970 0 0 0.9841 519.13 97.32)" font-size="17" font-weight="normal" fill="#3c3c3c" stroke="#3c3c3c" stroke-width="0.3">米ドル</text>
</g>
<g>
<text transform="matrix(0.8995 0 0 1.0095 633.10 97.29)" font-size="17" font-weight="normal" fill="#3c3c3c" stroke="#3c3c3c" stroke-width="0.3">豪ドル</text>
</g>
<g>
<text transform="matrix(1.0909 0 0 0.9875 128.08 453.72)" font-size="17" font-weight="normal" fill="#3c3c3c" stroke="#3c3c3c" stroke-width="0.3">（注）</text>
<text transform="matrix(0.8305 0 0 0.9032 180.05 453.70)" font-size="17" font-weight="normal" fill="#3c3c3c" stroke="#3c3c3c" stroke-width="0.3">データは</text>
<text transform="matrix(1.1255 0 0 1.0449 236.36 453.44)" font-size="17" font-weight="normal" fill="#3c3c3c">2016</text>
<text transform="matrix(1.0129 0 0 0.9333 278.74 453.60)" font-size="17" font-weight="normal" fill="#3c3c3c" stroke="#3c3c3c" stroke-width="0.3">年</text>
<text transform="matrix(1.1500 0 0 1.0449 296.14 453.44)" font-size="17" font-weight="normal" fill="#3c3c3c">5</text>
<text transform="matrix(1.0815 0 0 0.9333 307.66 453.60)" font-size="17" font-weight="normal" fill="#3c3c3c" stroke="#3c3c3c" stroke-width="0.3">月</text>
<text transform="matrix(0.9200 0 0 1.0449 325.65 453.44)" font-size="17" font-weight="normal" fill="#3c3c3c">1</text>
<text transform="matrix(1.0489 0 0 0.9333 334.05 453.60)" font-size="17" font-weight="normal" fill="#3c3c3c" stroke="#3c3c3c" stroke-width="0.3">日</text>
<text transform="matrix(0.9677 0 0 0.9333 352.17 453.60)" font-size="17" font-weight="normal" fill="#3c3c3c" stroke="#3c3c3c" stroke-width="0.3">～</text>
<text transform="matrix(1.1255 0 0 1.0449 369.66 453.44)" font-size="17" font-weight="normal" fill="#3c3c3c">2018</text>
<text transform="matrix(1.0452 0 0 0.9333 412.02 453.60)" font-size="17" font-weight="normal" fill="#3c3c3c" stroke="#3c3c3c" stroke-width="0.3">年</text>
<text transform="matrix(1.1625 0 0 1.0449 429.63 453.44)" font-size="17" font-weight="normal" fill="#3c3c3c">5</text>
<text transform="matrix(1.0593 0 0 0.9333 440.77 453.60)" font-size="17" font-weight="normal" fill="#3c3c3c" stroke="#3c3c3c" stroke-width="0.3">月</text>
<text transform="matrix(1.0841 0 0 1.0449 457.29 453.44)" font-size="17" font-weight="normal" fill="#3c3c3c">31</text>
<text transform="matrix(1.0933 0 0 0.9333 477.92 453.60)" font-size="17" font-weight="normal" fill="#3c3c3c" stroke="#3c3c3c" stroke-width="0.3">日</text>
<text transform="matrix(1.0286 0 0 0.9333 496.23 453.60)" font-size="17" font-weight="normal" fill="#3c3c3c" stroke="#3c3c3c" stroke-width="0.3">。</text>
</g>
<g>
<text transform="matrix(1.0517 0 0 0.9875 128.54 478.72)" font-size="17" font-weight="normal" fill="#3c3c3c" stroke="#3c3c3c" stroke-width="0.3">（出所）</text>
<text transform="matrix(1.1182 0 0 1.0286 197.82 478.60)" font-size="17" font-weight="normal" fill="#3c3c3c">Bloomberg</text>
<text transform="matrix(1.1400 0 0 1.0286 294.79 478.60)" font-size="17" font-weight="normal" fill="#3c3c3c">L.P.</text>
<text transform="matrix(0.8000 0 0 0.9677 326.70 479.03)" font-size="17" font-weight="normal" fill="#3c3c3c" stroke="#3c3c3c" stroke-width="0.3">のデータを</text>
<text transform="matrix(1.0839 0 0 0.9397 393.19 478.79)" font-size="17" font-weight="normal" fill="#3c3c3c" stroke="#3c3c3c" stroke-width="0.3">基</text>
<text transform="matrix(0.8528 0 0 0.9397 411.09 478.79)" font-size="17" font-weight="normal" fill="#3c3c3c" stroke="#3c3c3c" stroke-width="0.3">に</text>
<text transform="matrix(1.0340 0 0 0.9397 424.57 478.79)" font-size="17" font-weight="normal" fill="#3c3c3c" stroke="#3c3c3c" stroke-width="0.3">三井住友</text>
<text transform="matrix(0.7497 0 0 1.0200 494.10 478.93)" font-size="17" font-weight="normal" fill="#3c3c3c" stroke="#3c3c3c" stroke-width="0.3">アセットマネジメント</text>
<text transform="matrix(1.0308 0 0 0.9397 620.03 478.79)" font-size="17" font-weight="normal" fill="#3c3c3c" stroke="#3c3c3c" stroke-width="0.3">作成</text>
</g>
</svg>
</body></html>
